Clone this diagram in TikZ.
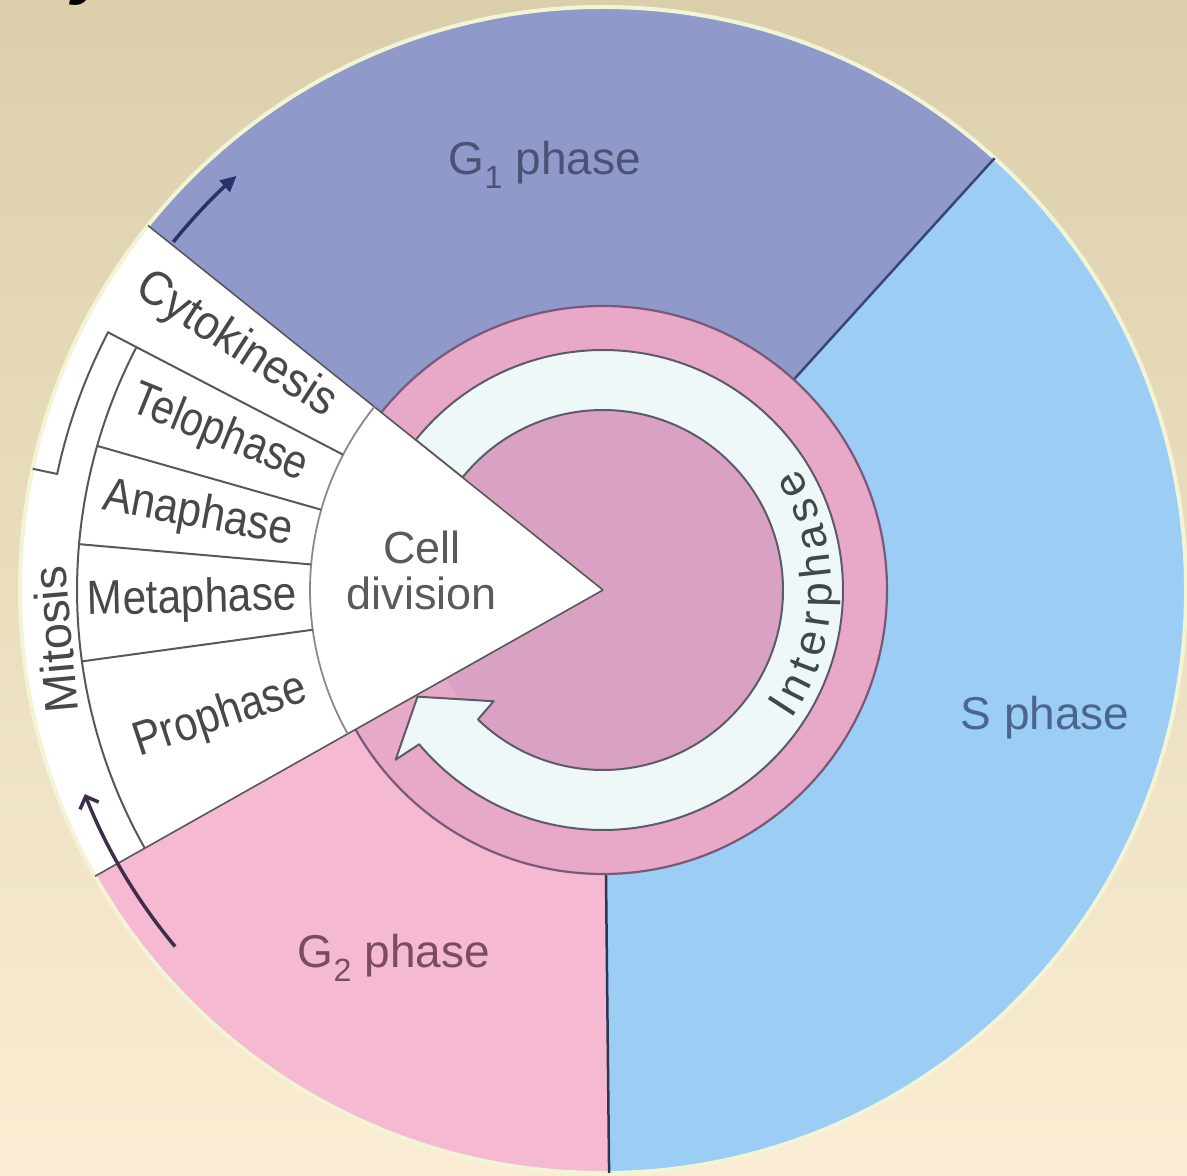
\documentclass[tikz,border=0pt]{standalone}
\usepackage{fontspec}
\setmainfont{Liberation Sans}
\usepackage{graphicx}
\usetikzlibrary{calc,arrows.meta,decorations.text}
\definecolor{bgtop}{HTML}{DBCFAB}
\definecolor{bgbot}{HTML}{FAEDD3}
\definecolor{gone}{HTML}{8F9ACB}
\definecolor{sph}{HTML}{9CCDF4}
\definecolor{gtwo}{HTML}{F5B9D1}
\definecolor{ringpink}{HTML}{E8A8C7}
\definecolor{discpink}{HTML}{D9A2C3}
\definecolor{bandw}{HTML}{EEF8F8}
\definecolor{rim}{HTML}{F2F4D6}
\definecolor{ringline}{HTML}{7A5878}
\definecolor{bandline}{HTML}{5E5A6A}
\definecolor{mgray}{HTML}{585858}
\definecolor{agray}{HTML}{8A8A8A}
\definecolor{gonetxt}{HTML}{4B5274}
\definecolor{stxt}{HTML}{4A6690}
\definecolor{gtwotxt}{HTML}{7A4C62}
\definecolor{celltxt}{HTML}{5A5A5A}
\definecolor{ltxt}{HTML}{484848}
\definecolor{inttxt}{HTML}{3E4848}
\definecolor{arrowup}{HTML}{28336A}
\definecolor{arrowlow}{HTML}{3E2E4A}
\definecolor{gsline}{HTML}{3A457C}
\definecolor{vline}{HTML}{303550}
\begin{document}
\begin{tikzpicture}[x=1pt,y=1pt,
  mline/.style={draw=mgray, line width=2pt},
  wline/.style={draw=mgray, line width=1.6pt},
  phtxt/.style={inner sep=0pt, font=\fontsize{46}{46}\selectfont},
  mtxt/.style={inner sep=0pt, font=\fontsize{48}{48}\selectfont, text=ltxt},
]
\useasboundingbox (0,0) rectangle (1187,1176);
\clip (0,0) rectangle (1187,1176);
\shade[top color=bgtop, bottom color=bgbot] (0,0) rectangle (1187,1176);
\coordinate (C) at (603,586);
% title fragment
\node[anchor=base west, inner sep=0pt, font=\fontsize{72}{72}\selectfont\bfseries\itshape] (ttl) at (32,1185) {cycle};
% phase sectors
\fill[gone] (C) -- ++(47.8:583) arc[start angle=47.8,end angle=141.3,radius=583] -- cycle;
\fill[sph] (C) -- ++(-89.4:583) arc[start angle=-89.4,end angle=47.8,radius=583] -- cycle;
\fill[gtwo] (C) -- ++(209.4:583) arc[start angle=209.4,end angle=270.6,radius=583] -- cycle;
\fill[white] (C) -- ++(141.3:583) arc[start angle=141.3,end angle=209.4,radius=583] -- cycle;
\draw[rim, line width=4pt] (C) circle[radius=583];
% boundaries between phases
\draw[gsline, line width=2.5pt] ($(C)+(47.8:284)$) -- ($(C)+(47.8:583)$);
\draw[vline, line width=2.5pt] ($(C)+(-89.4:284)$) -- ($(C)+(-89.4:583)$);
% interphase ring
\fill[ringpink] (C) circle[radius=284];
\draw[ringline, line width=2.2pt] (C) circle[radius=284];
\fill[discpink] (C) circle[radius=180];
\filldraw[fill=bandw, draw=bandline, line width=2pt, line join=round]
  ($(C)+(141.3:240)$) arc[start angle=141.3,end angle=-140,radius=240]
  -- ($(C)+(-140.7:268)$) -- ($(C)+(-150.1:214)$) -- ($(C)+(-134.5:156)$)
  -- ($(C)+(-134:180)$) arc[start angle=-134,end angle=141.3,radius=180] -- cycle;
% cell division wedge
\fill[white] (C) -- ++(141.3:300) arc[start angle=141.3,end angle=209.4,radius=300] -- cycle;
\draw[wline] (C) -- ++(141.3:583);
\draw[wline] (C) -- ++(209.4:583);
\draw[agray, line width=1.8pt] ($(C)+(141.3:293)$) arc[start angle=141.3,end angle=209.4,radius=293];
% mitosis cells and bracket
\draw[mline] ($(C)+(152.5:526)$) arc[start angle=152.5,end angle=209.4,radius=526];
\foreach \a in {164.1,175,187.8} \draw[mline] ($(C)+(\a:293)$) -- ($(C)+(\a:526)$);
\draw[mline, line join=miter] ($(C)+(152.5:293)$) -- ($(C)+(152.5:558)$) arc[start angle=152.5,end angle=168,radius=558] -- ($(C)+(168:583)$);
% arrows along the rim
\draw[arrowup, line width=3.5pt, -{Triangle[length=16pt,width=15pt]}] ($(C)+(141:553)$) arc[start angle=141,end angle=131.5,radius=553];
\draw[arrowlow, line width=3.5pt, -{Straight Barb[length=10pt,width=20pt,line width=3.5pt]}] ($(C)+(219.8:557)$) arc[start angle=219.8,end angle=201.5,radius=557];
% labels
\node[phtxt, text=gonetxt] (g1) at (545,1011) {G\textsubscript{1} phase};
\node[phtxt, text=stxt] (s) at (1045,458) {S phase};
\node[phtxt, text=gtwotxt] (g2) at (394,218) {G\textsubscript{2} phase};
\node[inner sep=0pt, align=center, text=celltxt, font=\fontsize{45}{46}\selectfont] (cd) at (422,606) {Cell\\division};
\node[mtxt, rotate=-33] (cyto) at ($(C)+(146.3:441)$) {\scalebox{0.93}[1]{Cytokinesis}};
\node[mtxt, rotate=-22] (telo) at ($(C)+(157.9:414)$) {\scalebox{0.85}[1]{Telophase}};
\node[mtxt, rotate=-10.5] (ana) at ($(C)+(169.5:412)$) {\scalebox{0.89}[1]{Anaphase}};
\node[mtxt, rotate=1.4] (meta) at ($(C)+(181.4:411)$) {\scalebox{0.88}[1]{Metaphase}};
\node[mtxt, rotate=18.3] (pro) at ($(C)+(198.3:403)$) {\scalebox{0.87}[1]{Prophase}};
\node[inner sep=0pt, rotate=95, text=ltxt, font=\fontsize{47}{47}\selectfont] (mit) at ($(C)+(185.2:550)$) {Mitosis};
\path[decorate, decoration={text along path, text color=inttxt,
   text={|\fontsize{44}{44}\selectfont|Interphase}, text align={fit to path}}]
   ($(C)+(-34.5:229)$) arc[start angle=-34.5,end angle=32,radius=229];
\end{tikzpicture}
\end{document}
